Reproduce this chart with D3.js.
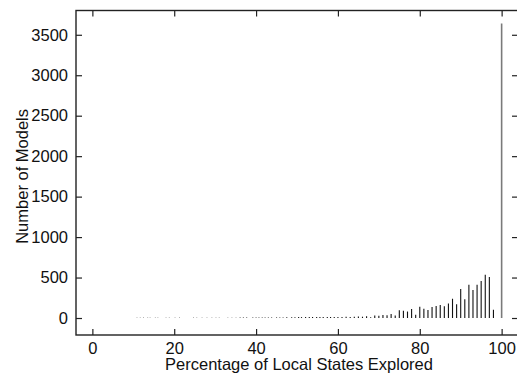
<!DOCTYPE html>
<html>
<head>
<meta charset="utf-8">
<script src="https://cdn.jsdelivr.net/npm/d3@7"></script>
<style>
  html, body { margin: 0; padding: 0; background: white; }
  text { font-family: "Liberation Sans", Arial, sans-serif; fill: #111; }
</style>
</head>
<body>
<div id="viz"></div>
<script>
// percentage of local states explored -> number of models
const pct = [10.9, 11.7, 12.5, 13.5, 14.1, 15.4, 16.0, 18.0, 18.8, 20.2, 21.3, 24.7, 25.5, 26.8,
  28.0, 29.2, 30.2, 31.0, 33.1, 34.1, 35.1, 36.1, 36.9, 37.7, 39.2, 40.0, 40.7, 41.5, 42.2,
  43.0, 43.8, 45.0, 45.8, 46.6, 47.5, 48.7, 49.5, 50.4, 51.1, 52.1, 53.0, 53.8, 54.8, 55.6,
  56.4, 57.4, 58.2, 59.1,
  60, 61, 62, 63, 64, 65, 66, 67, 68, 69, 70, 71, 72, 73, 74, 75, 76, 77, 78, 79,
  80, 81, 82, 83, 84, 85, 86, 87, 88, 89, 90, 91, 92, 93, 94, 95, 96, 97, 98, 100];
const models = [4, 4, 4, 4, 4, 4, 4, 4, 4, 4, 4, 4, 4, 4,
  4, 4, 4, 4, 4, 4, 4, 5, 6, 6, 6, 7, 7, 7, 7,
  7, 7, 7, 7, 7, 8, 8, 10, 11, 11, 11, 11, 11, 12, 12,
  12, 12, 12, 12,
  12, 12, 14, 12, 16, 18, 16, 22, 10, 32, 28, 38, 35, 50, 30, 95, 90, 80, 110, 40,
  140, 115, 100, 136, 148, 160, 144, 180, 238, 170, 357, 232, 410, 346, 410, 458, 534, 508, 103, 3640];

const xTicks = [0, 20, 40, 60, 80, 100];
const yTicks = [0, 500, 1000, 1500, 2000, 2500, 3000, 3500];

const width = 517;
const height = 374;
const plotL = 76, plotR = 518, plotT = 10.5, plotB = 335;
const tickLen = 6;

const x = d3.scaleLinear().domain([-4, 104]).range([plotL, plotR]);
const y = d3.scaleLinear().domain([-210, 3800]).range([plotB, plotT]);

const svg = d3.select("#viz")
  .append("svg")
  .attr("width", width)
  .attr("height", height);

// impulses
const data = pct.map((p, i) => ({ p: p, n: models[i] }));
svg.append("g")
  .selectAll("line")
  .data(data)
  .join("line")
  .attr("x1", d => x(d.p))
  .attr("x2", d => x(d.p))
  .attr("y1", y(0))
  .attr("y2", d => y(d.n))
  .attr("stroke", d => d.p == 100 ? "#7a7a7a" : "#111")
  .attr("stroke-width", d => d.p == 100 ? 1.6 : 1.1);

// axes: ticks point inward on all four sides
const fontSize = 16.5;
const fmt = d3.format("d");
const axisLeft = d3.axisLeft(y).tickValues(yTicks).tickFormat(fmt).tickSizeInner(-tickLen).tickSizeOuter(0).tickPadding(8);
const axisRight = d3.axisRight(y).tickValues(yTicks).tickSizeInner(-tickLen).tickSizeOuter(0).tickFormat("");
const axisBottom = d3.axisBottom(x).tickValues(xTicks).tickFormat(fmt).tickSizeInner(-tickLen).tickSizeOuter(0).tickPadding(7);
const axisTop = d3.axisTop(x).tickValues(xTicks).tickSizeInner(-tickLen).tickSizeOuter(0).tickFormat("");

const styleAxis = g => {
  g.select(".domain").remove();
  g.selectAll(".tick line").attr("stroke", "#222").attr("stroke-width", 1.2);
  g.selectAll(".tick text").attr("font-size", fontSize).attr("fill", "#111")
    .attr("font-family", '"Liberation Sans", Arial, sans-serif');
};

svg.append("g").attr("transform", `translate(${plotL},0)`).call(axisLeft).call(styleAxis);
svg.append("g").attr("transform", `translate(${plotR},0)`).call(axisRight).call(styleAxis);
svg.append("g").attr("transform", `translate(0,${plotB})`).call(axisBottom).call(styleAxis);
svg.append("g").attr("transform", `translate(0,${plotT})`).call(axisTop).call(styleAxis);

// frame
svg.append("rect")
  .attr("x", plotL)
  .attr("y", plotT)
  .attr("width", plotR - plotL)
  .attr("height", plotB - plotT)
  .attr("fill", "none")
  .attr("stroke", "#222")
  .attr("stroke-width", 1.4);

// labels
svg.append("text")
  .attr("x", (x(0) + x(100)) / 2 + 2)
  .attr("y", 370)
  .attr("text-anchor", "middle")
  .attr("font-size", fontSize)
  .text("Percentage of Local States Explored");

svg.append("text")
  .attr("transform", `translate(28,${(y(0) + y(3500)) / 2}) rotate(-90)`)
  .attr("text-anchor", "middle")
  .attr("font-size", fontSize)
  .text("Number of Models");
</script>
</body>
</html>
